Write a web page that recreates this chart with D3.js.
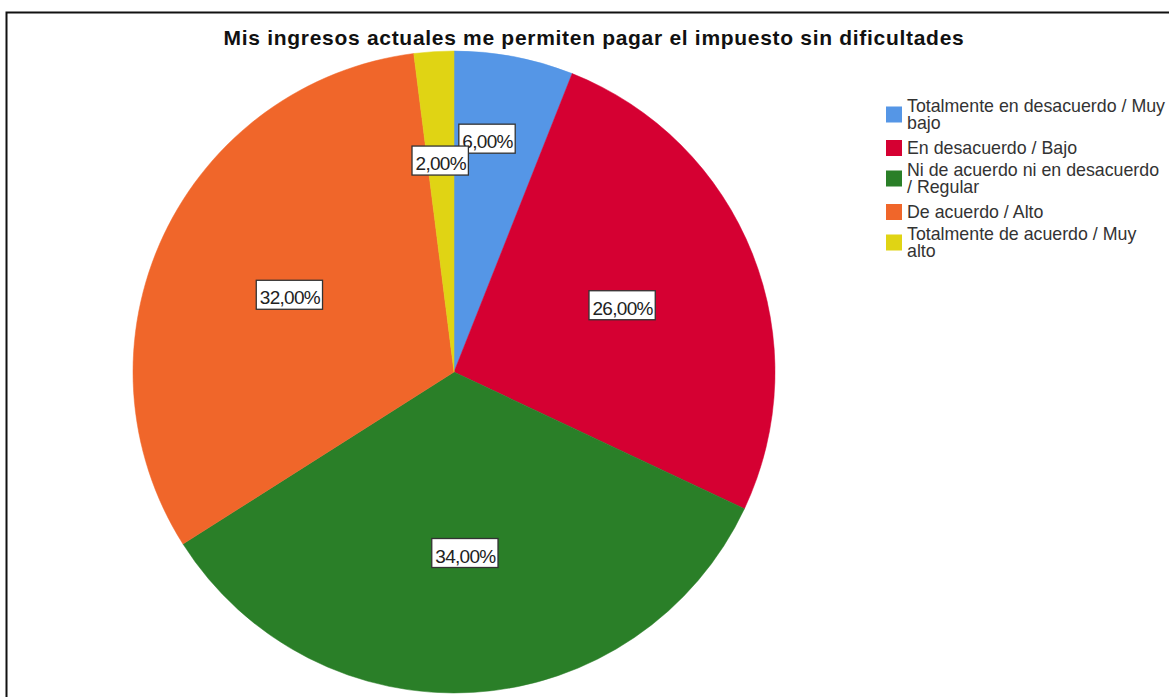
<!DOCTYPE html>
<html>
<head>
<meta charset="utf-8">
<script src="https://cdn.jsdelivr.net/npm/d3@7"></script>
<style>
  html, body { margin: 0; padding: 0; background: #fff; overflow: hidden; }
  svg { display: block; font-family: "Liberation Sans", Arial, sans-serif; }
</style>
</head>
<body>
<svg id="chart" width="1169" height="697"></svg>
<script>
const title = "Mis ingresos actuales me permiten pagar el impuesto sin dificultades";
const categories = [
  "Totalmente en desacuerdo / Muy bajo",
  "En desacuerdo / Bajo",
  "Ni de acuerdo ni en desacuerdo / Regular",
  "De acuerdo / Alto",
  "Totalmente de acuerdo / Muy alto"
];
const percentages = [6, 26, 34, 32, 2];
const colors = ["#5596e6", "#d50032", "#2a7f28", "#f0662a", "#e0d414"];

const svg = d3.select("#chart");

// frame
svg.append("rect")
  .attr("x", 6.5).attr("y", 12.5)
  .attr("width", 1200).attr("height", 700)
  .attr("fill", "none").attr("stroke", "#111").attr("stroke-width", 2);

// title
svg.append("text")
  .attr("x", 594).attr("y", 45)
  .attr("text-anchor", "middle")
  .attr("font-size", 21).attr("font-weight", "bold")
  .attr("letter-spacing", 0.7)
  .attr("fill", "#111")
  .text(title);

const cx = 454, cy = 372, R = 321;
const data = categories.map((c, i) => ({ cat: c, value: percentages[i], color: colors[i] }));

const pie = d3.pie().value(d => d.value).sort(null);
const arcs = pie(data);
const arc = d3.arc().innerRadius(0).outerRadius(R);

const g = svg.append("g").attr("transform", `translate(${cx},${cy})`);
g.selectAll("path.slice").data(arcs).enter().append("path")
  .attr("class", "slice")
  .attr("d", arc)
  .attr("fill", d => d.data.color)
  .attr("stroke", d => d.data.color)
  .attr("stroke-width", 0.5);

const fmt = v => d3.format(".2f")(v).replace(".", ",") + "%";

function labelRadius(v) {
  if (v < 5) return 0.66 * R;
  if (v < 10) return 0.74 * R;
  return 0.565 * R;
}

const labels = g.selectAll("g.lbl").data(arcs).enter().append("g").attr("class", "lbl")
  .attr("transform", d => {
    const a = (d.startAngle + d.endAngle) / 2;
    const r = labelRadius(d.data.value);
    let x = r * Math.sin(a), y = -r * Math.cos(a);
    if (d.data.value < 10 && d.data.value >= 5) x -= 11;
    return `translate(${x},${y})`;
  });

labels.each(function(d) {
  const sel = d3.select(this);
  const t = sel.append("text")
    .attr("x", 0)
    .attr("y", 9.5)
    .attr("text-anchor", "middle")
    .attr("font-size", 19)
    .attr("letter-spacing", -0.7)
    .attr("fill", "#222")
    .text(fmt(d.data.value));
  const w = t.node().getComputedTextLength();
  sel.insert("rect", "text")
    .attr("x", -w / 2 - 3.5).attr("y", -14.5)
    .attr("width", w + 6).attr("height", 29)
    .attr("fill", "#fff").attr("stroke", "#333").attr("stroke-width", 1.3);
});

// legend
const legend = svg.append("g");
const lx = 886, textX = 907, maxW = 261, lineH = 17;
let baseY = 112;
data.forEach((d, i) => {
  const t = legend.append("text")
    .attr("x", textX)
    .attr("font-size", 17.8)
    .attr("fill", "#333");
  const words = d.cat.split(" ");
  let lines = [], cur = [];
  const tmp = t.append("tspan").attr("x", textX);
  words.forEach(w => {
    cur.push(w);
    tmp.text(cur.join(" "));
    if (tmp.node().getComputedTextLength() > maxW && cur.length > 1) {
      cur.pop();
      lines.push(cur.join(" "));
      cur = [w];
    }
  });
  lines.push(cur.join(" "));
  tmp.remove();
  lines.forEach((ln, j) => {
    t.append("tspan").attr("x", textX).attr("y", baseY + j * lineH).text(ln);
  });
  const top = baseY - 12, bottom = baseY + (lines.length - 1) * lineH;
  const mid = (top + bottom) / 2;
  legend.append("rect")
    .attr("x", lx).attr("y", mid - 8)
    .attr("width", 16).attr("height", 16)
    .attr("fill", d.color);
  baseY = baseY + (lines.length - 1) * lineH + (lines.length > 1 ? 25 : 22);
});
</script>
</body>
</html>
